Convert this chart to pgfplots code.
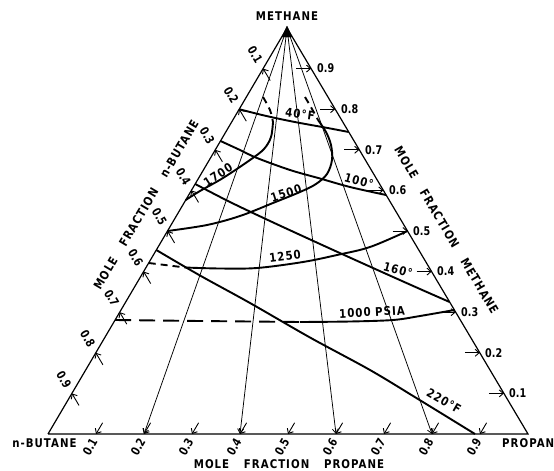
\documentclass[border=0pt]{standalone}
\usepackage{fontspec}
\setmainfont[LetterSpace=10]{DejaVu Sans}
\newfontfamily\tkf{DejaVu Sans}
\usepackage{graphicx}
\usepackage{pgfplots}
\pgfplotsset{compat=1.18}
\usetikzlibrary{arrows.meta}
\newcommand{\lb}[1]{\scalebox{0.85}[1]{\fontsize{12}{14}\selectfont\bfseries #1}}
\newcommand{\tl}[1]{\scalebox{0.8}[1]{\tkf\fontsize{12}{14}\selectfont\bfseries #1}}
\pgfplotsset{
  thk/.style={black, line width=1.9pt, smooth, tension=0.55, no markers},
  thkd/.style={black, line width=1.9pt, smooth, tension=0.55, no markers, dash pattern=on 7pt off 5pt},
  thn/.style={black, line width=0.75pt, no markers, -{Straight Barb[length=4.5pt,width=6pt]}},
  tk/.style={black, line width=0.9pt, no markers, -{Straight Barb[length=4pt,width=7pt]}},
}
\begin{document}
\begin{tikzpicture}
\begin{axis}[
  scale only axis, width=554pt, height=471pt,
  xmin=0, xmax=554, ymin=0, ymax=471, y dir=reverse,
  hide axis, clip=false,
]
% triangle frame
\addplot[black, line width=1.2pt, no markers] coordinates {(48,434) (528,434) (287,28) (48,434)};
\addplot[black, fill=black, no markers] coordinates {(287,26) (282,37) (292,37) (287,26)};
% thin ratio lines from methane apex
\addplot[thn] coordinates {(287,28) (144,434)};
\addplot[thn] coordinates {(287,28) (240,434)};
\addplot[thn] coordinates {(287,28) (336,434)};
\addplot[thn] coordinates {(287,28) (432,434)};
% left ticks (n-butane)
\addplot[tk] coordinates {(270.2,80.6) (263.1,68.6)};
\addplot[tk] coordinates {(246.3,121.2) (239.2,109.2)};
\addplot[tk] coordinates {(222.4,161.8) (215.3,149.8)};
\addplot[tk] coordinates {(198.5,202.4) (191.4,190.4)};
\addplot[tk] coordinates {(174.6,243) (167.5,231)};
\addplot[tk] coordinates {(150.7,283.6) (143.6,271.6)};
\addplot[tk] coordinates {(126.8,324.2) (119.7,312.2)};
\addplot[tk] coordinates {(102.9,364.8) (95.8,352.8)};
\addplot[tk] coordinates {(79,405.4) (71.9,393.4)};
% right ticks (methane)
\addplot[tk] coordinates {(296.1,68.6) (311.1,68.6)};
\addplot[tk] coordinates {(320.2,109.2) (335.2,109.2)};
\addplot[tk] coordinates {(344.3,149.8) (359.3,149.8)};
\addplot[tk] coordinates {(368.4,190.4) (383.4,190.4)};
\addplot[tk] coordinates {(392.5,231) (407.5,231)};
\addplot[tk] coordinates {(416.6,271.6) (431.6,271.6)};
\addplot[tk] coordinates {(440.7,312.2) (455.7,312.2)};
\addplot[tk] coordinates {(464.8,352.8) (479.8,352.8)};
\addplot[tk] coordinates {(488.9,393.4) (503.9,393.4)};
% bottom ticks (propane)
\addplot[tk] coordinates {(102.6,422.8) (96,434)};
\addplot[tk] coordinates {(150.6,422.8) (144,434)};
\addplot[tk] coordinates {(198.6,422.8) (192,434)};
\addplot[tk] coordinates {(246.6,422.8) (240,434)};
\addplot[tk] coordinates {(294.6,422.8) (288,434)};
\addplot[tk] coordinates {(342.6,422.8) (336,434)};
\addplot[tk] coordinates {(390.6,422.8) (384,434)};
\addplot[tk] coordinates {(438.6,422.8) (432,434)};
\addplot[tk] coordinates {(486.6,422.8) (480,434)};
% isotherms
\addplot[thk] coordinates {(239.2,109.2) (260,114.5) (280,119) (300,123) (325,127.5) (348.7,132)};
\addplot[thk] coordinates {(220.5,141) (240,150) (257,158) (290,170) (320,178.5) (350,187) (386,195)};
\addplot[thk] coordinates {(195.2,184) (230,202) (270,221) (320,244) (373,268) (420,289) (449.6,302)};
\addplot[thk] coordinates {(156.3,250) (200,275.5) (250,303) (310,337.5) (370,370) (418,399) (475,434)};
% isobars
\addplot[thkd] coordinates {(263,97) (270,110) (273,122)};
\addplot[thk] coordinates {(273,122) (271,137) (264,149) (250,160) (223,178) (200,191) (185.7,200)};
\addplot[thkd] coordinates {(305,97) (312,109) (318,120)};
\addplot[thk] coordinates {(318,120) (326,132) (331,145) (332,160) (327,174) (316,184) (300,192) (273,203) (240,216) (207,225) (167.5,231)};
\addplot[thkd] coordinates {(148.7,263) (165,265) (185,267.5)};
\addplot[thk] coordinates {(185,267.5) (220,268.5) (257,268) (303,262) (337,255) (370,247) (407.5,231)};
\addplot[black, line width=1.9pt, no markers, dash pattern=on 16pt off 8pt] coordinates {(115.1,320) (200,321) (300,322)};
\addplot[thk] coordinates {(300,322) (350,321.5) (393,320) (420,316) (454.4,310)};
% curve labels
\node[rotate=-8] at (axis cs:300,114) {\lb{40°F}};
\node[rotate=-15] at (axis cs:359,181) {\lb{100°}};
\node[rotate=-15] at (axis cs:398,270) {\lb{160°}};
\node[rotate=-30] at (axis cs:444,401) {\lb{220°F}};
\node[rotate=33] at (axis cs:218,175) {\lb{1700}};
\node[rotate=18] at (axis cs:286,193) {\lb{1500}};
\node[rotate=7] at (axis cs:285,256) {\lb{1250}};
\node[rotate=3] at (axis cs:372,312) {\lb{1000 PSIA}};
% left tick labels
\node[rotate=-59.4] at (axis cs:255.1,54.6) {\tl{0.1}};
\node[rotate=-59.4] at (axis cs:231.2,95.2) {\tl{0.2}};
\node[rotate=-59.4] at (axis cs:207.3,135.8) {\tl{0.3}};
\node[rotate=-59.4] at (axis cs:183.4,176.4) {\tl{0.4}};
\node[rotate=-59.4] at (axis cs:159.5,217) {\tl{0.5}};
\node[rotate=-59.4] at (axis cs:135.6,257.6) {\tl{0.6}};
\node[rotate=-59.4] at (axis cs:111.7,298.2) {\tl{0.7}};
\node[rotate=-59.4] at (axis cs:87.8,338.8) {\tl{0.8}};
\node[rotate=-59.4] at (axis cs:63.9,379.4) {\tl{0.9}};
% right tick labels
\node[anchor=west, inner sep=1pt] at (axis cs:316,68.6) {\tl{0.9}};
\node[anchor=west, inner sep=1pt] at (axis cs:340,109.2) {\tl{0.8}};
\node[anchor=west, inner sep=1pt] at (axis cs:364,149.8) {\tl{0.7}};
\node[anchor=west, inner sep=1pt] at (axis cs:388,190.4) {\tl{0.6}};
\node[anchor=west, inner sep=1pt] at (axis cs:412,231) {\tl{0.5}};
\node[anchor=west, inner sep=1pt] at (axis cs:436,271.6) {\tl{0.4}};
\node[anchor=west, inner sep=1pt] at (axis cs:460,312.2) {\tl{0.3}};
\node[anchor=west, inner sep=1pt] at (axis cs:484,352.8) {\tl{0.2}};
\node[anchor=west, inner sep=1pt] at (axis cs:508,393.4) {\tl{0.1}};
% bottom tick labels
\node[rotate=60] at (axis cs:90,447) {\tl{0.1}};
\node[rotate=60] at (axis cs:138,447) {\tl{0.2}};
\node[rotate=60] at (axis cs:186,447) {\tl{0.3}};
\node[rotate=60] at (axis cs:234,447) {\tl{0.4}};
\node[rotate=60] at (axis cs:282,447) {\tl{0.5}};
\node[rotate=60] at (axis cs:330,447) {\tl{0.6}};
\node[rotate=60] at (axis cs:378,447) {\tl{0.7}};
\node[rotate=60] at (axis cs:426,447) {\tl{0.8}};
\node[rotate=60] at (axis cs:474,447) {\tl{0.9}};
% titles
\node at (axis cs:287,16) {\lb{METHANE}};
\node at (axis cs:44.5,443) {\lb{n-BUTANE}};
\node[anchor=west, inner sep=0pt] at (axis cs:502,443) {\lb{PROPANE}};
\node at (axis cs:289,464) {\lb{MOLE\hspace{12pt} FRACTION\hspace{12pt} PROPANE}};
\node[rotate=59.4] at (axis cs:146,205) {\lb{MOLE\hspace{12pt} FRACTION\hspace{12pt} n-BUTANE}};
\node[rotate=-59.4] at (axis cs:446.5,230) {\lb{MOLE\hspace{12pt} FRACTION\hspace{12pt} METHANE}};
\end{axis}
\pgfresetboundingbox
\useasboundingbox (current axis.south west) rectangle (current axis.north east);
\end{tikzpicture}
\end{document}
